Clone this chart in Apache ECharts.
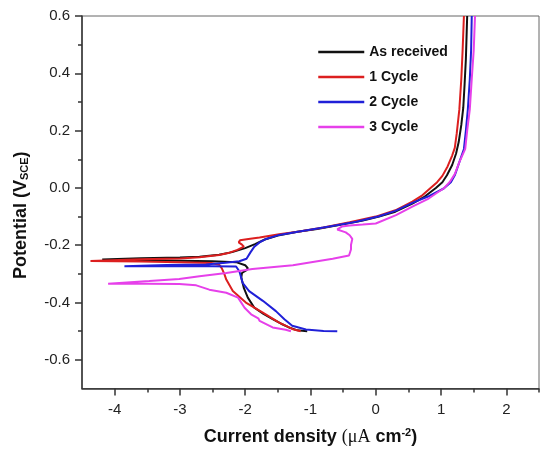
<!DOCTYPE html>
<html>
<head>
<meta charset="utf-8">
<script src="https://cdn.jsdelivr.net/npm/echarts@6/dist/echarts.min.js"></script>
<style>html,body{margin:0;padding:0;background:#fff}#c{width:542px;height:451px}</style>
</head>
<body>
<div id="c"></div>
<script>
// Series names
const seriesNames = ['As received', '1 Cycle', '2 Cycle', '3 Cycle'];
const seriesColors = ['#111111', '#dc1f1f', '#2020d8', '#e640ea'];

// Each curve: [log current density, potential (V vs SCE)], in scan order
const asReceived = [
  [-1.05,-0.500],[-1.20,-0.497],[-1.33,-0.487],[-1.45,-0.474],[-1.58,-0.458],[-1.72,-0.440],
  [-1.86,-0.418],[-1.96,-0.383],[-2.02,-0.350],[-2.06,-0.313],[-2.05,-0.297],[-1.98,-0.287],
  [-1.96,-0.280],[-2.00,-0.270],[-2.14,-0.259],[-2.50,-0.256],[-3.00,-0.254],[-3.60,-0.252],
  [-4.19,-0.250],[-4.19,-0.246],[-3.60,-0.245],[-3.00,-0.243],[-2.70,-0.240],[-2.40,-0.233],
  [-2.20,-0.224],[-2.00,-0.210],[-1.85,-0.196],[-1.70,-0.180],[-1.50,-0.166],[-1.20,-0.153],
  [-0.90,-0.143],[-0.50,-0.127],[-0.20,-0.114],[0.05,-0.100],[0.30,-0.083],[0.56,-0.055],
  [0.75,-0.030],[0.92,0.000],[1.02,0.020],[1.09,0.044],[1.17,0.080],[1.23,0.120],[1.27,0.160],
  [1.31,0.220],[1.34,0.280],[1.36,0.360],[1.38,0.450],[1.40,0.600]
];
const cycle1 = [
  [-1.15,-0.500],[-1.27,-0.493],[-1.48,-0.470],[-1.73,-0.435],[-1.99,-0.400],[-2.19,-0.360],
  [-2.29,-0.320],[-2.32,-0.300],[-2.36,-0.280],[-2.40,-0.268],[-2.52,-0.262],[-3.00,-0.259],
  [-3.60,-0.257],[-4.37,-0.255],[-4.37,-0.251],[-3.60,-0.249],[-3.00,-0.246],[-2.70,-0.242],
  [-2.40,-0.234],[-2.24,-0.226],[-2.12,-0.216],[-2.02,-0.205],[-2.05,-0.198],[-2.10,-0.190],
  [-2.08,-0.183],[-1.95,-0.178],[-1.78,-0.173],[-1.48,-0.162],[-1.17,-0.152],[-0.80,-0.138],
  [-0.40,-0.120],[0.00,-0.100],[0.30,-0.078],[0.56,-0.048],[0.70,-0.028],[0.83,-0.002],
  [0.94,0.020],[1.02,0.042],[1.10,0.075],[1.17,0.113],[1.21,0.140],[1.24,0.190],[1.28,0.274],
  [1.31,0.380],[1.33,0.480],[1.35,0.600]
];
const cycle2 = [
  [-0.59,-0.500],[-0.80,-0.499],[-1.07,-0.494],[-1.28,-0.481],[-1.40,-0.458],[-1.53,-0.430],
  [-1.73,-0.394],[-1.94,-0.360],[-2.04,-0.331],[-2.06,-0.314],[-2.09,-0.291],[-2.14,-0.274],
  [-2.50,-0.273],[-3.20,-0.273],[-3.85,-0.273],[-3.85,-0.270],[-3.20,-0.269],[-2.60,-0.267],
  [-2.30,-0.261],[-2.09,-0.256],[-1.98,-0.247],[-1.92,-0.225],[-1.86,-0.205],[-1.78,-0.190],
  [-1.68,-0.178],[-1.48,-0.164],[-1.17,-0.152],[-0.71,-0.135],[-0.30,-0.118],[0.05,-0.099],
  [0.30,-0.080],[0.56,-0.052],[0.80,-0.030],[1.04,-0.002],[1.15,0.020],[1.21,0.044],
  [1.28,0.090],[1.35,0.136],[1.38,0.200],[1.41,0.274],[1.44,0.380],[1.46,0.480],[1.47,0.600]
];
const cycle3 = [
  [-1.30,-0.500],[-1.38,-0.495],[-1.58,-0.487],[-1.78,-0.464],[-1.80,-0.455],[-1.83,-0.452],
  [-1.91,-0.441],[-2.01,-0.418],[-2.11,-0.383],[-2.29,-0.366],[-2.55,-0.355],[-2.75,-0.340],
  [-3.01,-0.335],[-3.50,-0.334],[-4.10,-0.334],[-4.10,-0.330],[-3.47,-0.325],[-3.01,-0.318],
  [-2.70,-0.308],[-2.29,-0.297],[-1.89,-0.283],[-1.27,-0.270],[-0.66,-0.247],[-0.41,-0.236],
  [-0.38,-0.215],[-0.38,-0.199],[-0.36,-0.178],[-0.40,-0.165],[-0.46,-0.155],[-0.59,-0.145],
  [-0.52,-0.135],[-0.40,-0.131],[-0.20,-0.128],[0.00,-0.124],[0.31,-0.095],[0.56,-0.065],
  [0.81,-0.037],[0.95,-0.015],[1.04,-0.002],[1.13,0.020],[1.21,0.048],[1.28,0.090],
  [1.37,0.136],[1.40,0.200],[1.44,0.274],[1.47,0.380],[1.50,0.480],[1.52,0.600]
];

// Axis ticks
const xTicks = [-4, -3, -2, -1, 0, 1, 2];
const xMinorTicks = [-3.5, -2.5, -1.5, -0.5, 0.5, 1.5, 2.5];
const yTicks = [-0.6, -0.4, -0.2, 0, 0.2, 0.4, 0.6];
const yMinorTicks = [-0.5, -0.3, -0.1, 0.1, 0.3, 0.5];
const xRange = [-4.5, 2.5];
const yRange = [-0.7, 0.6];

const curves = [asReceived, cycle1, cycle2, cycle3];
const FONT = 'Liberation Sans, Arial, sans-serif';
const axisColor = '#333';

const chart = echarts.init(document.getElementById('c'));
chart.setOption({
  animation: false,
  backgroundColor: '#fff',
  grid: { left: 82, right: 3, top: 16, bottom: 59.5, show: true, borderColor: '#666', borderWidth: 1, containLabel: false },
  legend: {
    orient: 'vertical', left: 317, top: 45, padding: 0, itemWidth: 46, itemHeight: 14, itemGap: 11,
    data: seriesNames,
    lineStyle: { width: 2.5 },
    itemStyle: { color: 'rgba(0,0,0,0)', borderColor: 'rgba(0,0,0,0)', borderWidth: 0, opacity: 0 },
    textStyle: { fontFamily: FONT, fontSize: 14, fontWeight: 'bold', color: '#111' }
  },
  xAxis: [{
    type: 'value', min: xRange[0], max: xRange[1], position: 'bottom',
    splitLine: { show: false },
    axisLine: { show: true, onZero: false, lineStyle: { color: axisColor, width: 1.5 } },
    axisTick: { show: true, length: 7, customValues: xTicks, lineStyle: { color: axisColor, width: 1.5 } },
    axisLabel: { customValues: xTicks, margin: 14, fontFamily: FONT, fontSize: 15, color: '#222',
      formatter: v => String(v) },
    name: '{b|Current density }{g|(μA}{b| cm}{sup|-2}{b|)}',
    nameLocation: 'middle', nameGap: 39,
    nameTextStyle: { rich: {
      b: { fontFamily: FONT, fontSize: 18, fontWeight: 'bold', color: '#111' },
      g: { fontFamily: 'Liberation Serif, serif', fontSize: 18, color: '#111' },
      sup: { fontFamily: FONT, fontSize: 11, fontWeight: 'bold', color: '#111', verticalAlign: 'top', padding: [0,0,8,0] }
    } }
  }, {
    type: 'value', min: xRange[0], max: xRange[1], position: 'bottom',
    splitLine: { show: false }, axisLine: { show: false, onZero: false }, axisLabel: { show: false },
    axisTick: { show: true, length: 4, customValues: xMinorTicks, lineStyle: { color: axisColor, width: 1.5 } }
  }],
  yAxis: [{
    type: 'value', min: yRange[0], max: yRange[1], position: 'left',
    splitLine: { show: false },
    axisLine: { show: true, onZero: false, lineStyle: { color: axisColor, width: 1.5 } },
    axisTick: { show: true, length: 7, customValues: yTicks, lineStyle: { color: axisColor, width: 1.5 } },
    axisLabel: { customValues: yTicks, margin: 12, fontFamily: FONT, fontSize: 15, color: '#222',
      formatter: v => v.toFixed(1) },
    name: '{b|Potential (V}{s|SCE}{b|)}',
    nameLocation: 'middle', nameGap: 52,
    nameTextStyle: { padding: [0, 26, 0, 0], rich: {
      b: { fontFamily: FONT, fontSize: 18, fontWeight: 'bold', color: '#111' },
      s: { fontFamily: FONT, fontSize: 11, fontWeight: 'bold', color: '#111', verticalAlign: 'bottom', padding: [6,0,0,0] }
    } }
  }, {
    type: 'value', min: yRange[0], max: yRange[1], position: 'left',
    splitLine: { show: false }, axisLine: { show: false, onZero: false }, axisLabel: { show: false },
    axisTick: { show: true, length: 4, customValues: yMinorTicks, lineStyle: { color: axisColor, width: 1.5 } }
  }],
  series: curves.map((d, i) => ({
    name: seriesNames[i], type: 'line', data: d, xAxisIndex: 0, yAxisIndex: 0,
    showSymbol: false, symbol: 'none', smooth: false,
    lineStyle: { color: seriesColors[i], width: 2 }, itemStyle: { color: seriesColors[i] }
  }))
});
</script>
</body>
</html>
